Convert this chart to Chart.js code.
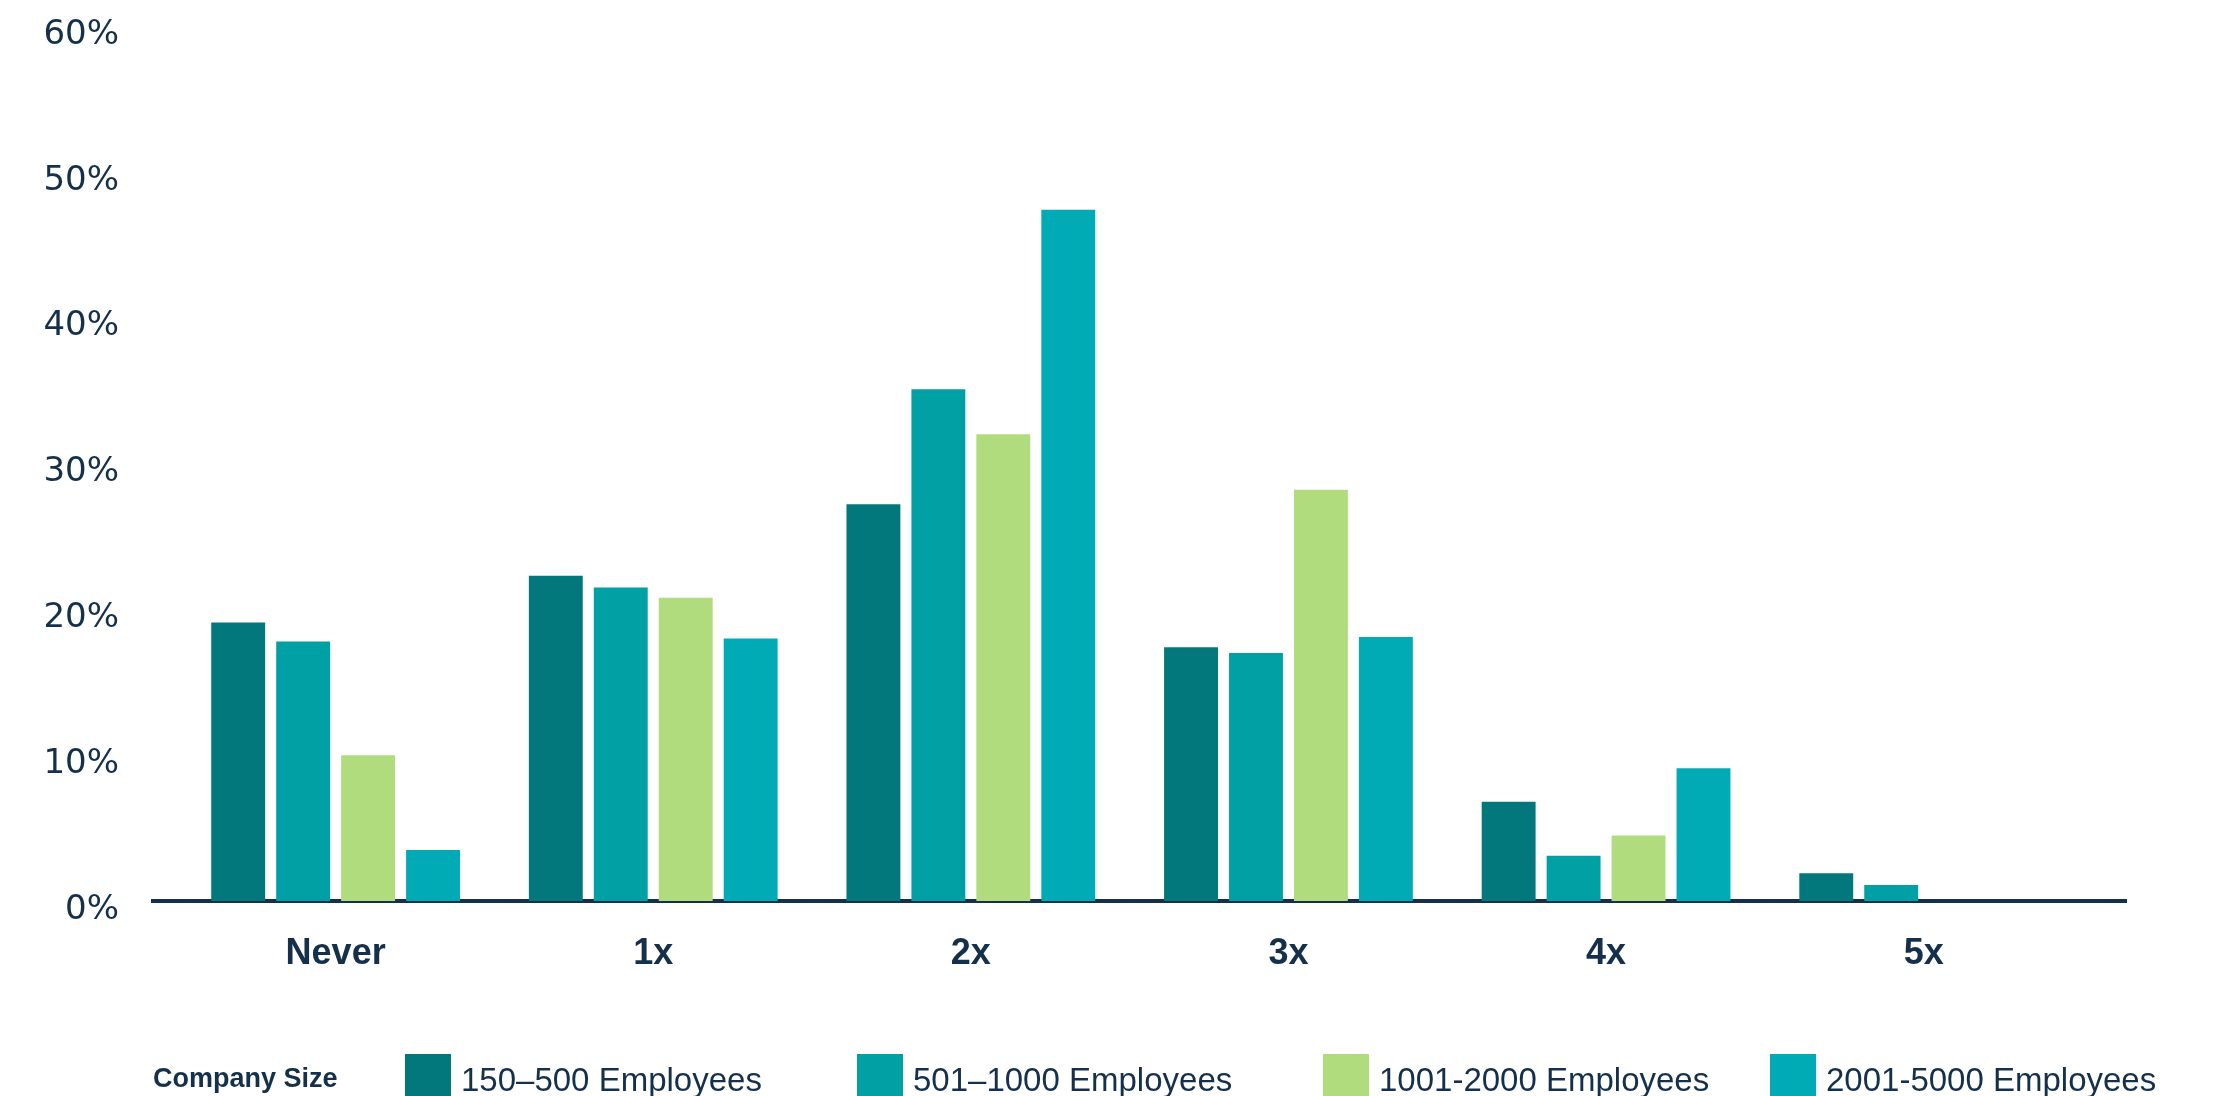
<!DOCTYPE html>
<html>
<head>
<meta charset="utf-8">
<script src="https://cdn.jsdelivr.net/npm/chart.js@4/dist/chart.umd.min.js"></script>
<style>
  html, body { margin: 0; padding: 0; background: #ffffff; }
  #wrap { width: 2218px; height: 1096px; position: relative; overflow: hidden; }
</style>
</head>
<body>
<div id="wrap"><canvas id="chart" width="2218" height="1096"></canvas></div>
<script>
// How often employees were asked, by company size (share of respondents, %)
const categories = ['Never', '1x', '2x', '3x', '4x', '5x'];
const seriesNames = ['150–500 Employees', '501–1000 Employees', '1001-2000 Employees', '2001-5000 Employees'];
const size150to500   = [19.1, 22.3, 27.2, 17.4, 6.8, 1.9];
const size501to1000  = [17.8, 21.5, 35.1, 17.0, 3.1, 1.1];
const size1001to2000 = [10.0, 20.8, 32.0, 28.2, 4.5, 0];
const size2001to5000 = [3.5, 18.0, 47.4, 18.1, 9.1, 0];
const yTicks = [0, 10, 20, 30, 40, 50, 60];
const legendTitle = 'Company Size';

const seriesValues = [size150to500, size501to1000, size1001to2000, size2001to5000];
const seriesColors = ['#03787c', '#00a0a5', '#b0dc7e', '#00abb6'];
const legendSwatchX = [405, 857, 1323, 1770];
const ink = '#14304a';

const datasets = seriesNames.map((name, i) => ({
  label: name,
  data: seriesValues[i].map((v, k) => ({ x: k, y: v })),
  backgroundColor: seriesColors[i],
  borderWidth: 0,
  categoryPercentage: 0.818,
  barPercentage: 0.83
}));

// Legend row along the bottom edge: bold title, then swatch + label pairs
const bottomLegend = {
  id: 'bottomLegend',
  afterDraw(chart) {
    const ctx = chart.ctx;
    ctx.save();
    ctx.fillStyle = ink;
    ctx.textAlign = 'left';
    ctx.textBaseline = 'alphabetic';
    ctx.font = 'bold 27px "Liberation Sans", Arial, sans-serif';
    ctx.fillText(legendTitle, 153, 1087);
    ctx.font = '33px "Liberation Sans", Arial, sans-serif';
    chart.data.datasets.forEach((ds, i) => {
      const x = legendSwatchX[i];
      ctx.fillStyle = ds.backgroundColor;
      ctx.fillRect(x, 1054, 46, 50);
      ctx.fillStyle = ink;
      ctx.fillText(ds.label, x + 56, 1091);
    });
    ctx.restore();
  }
};

// keep tick label overhang from adding extra space around the plot area
const noScalePadding = s => { s.paddingTop = 0; s.paddingBottom = 0; s.paddingLeft = 0; s.paddingRight = 0; };

new Chart(document.getElementById('chart'), {
  type: 'bar',
  data: { datasets },
  plugins: [bottomLegend],
  options: {
    responsive: false,
    devicePixelRatio: 1,
    animation: false,
    layout: { padding: { top: 26, right: 92, bottom: 0, left: 0 } },
    plugins: { legend: { display: false }, tooltip: { enabled: false } },
    scales: {
      x: {
        type: 'linear',
        offset: false,
        min: -0.575,
        max: 5.637,
        z: 1,
        afterFit(scale) { scale.height = 195; noScalePadding(scale); },
        grid: { display: false, drawTicks: false, offset: false },
        border: { display: true, color: ink, width: 4 },
        ticks: {
          stepSize: 1,
          autoSkip: false,
          includeBounds: false,
          maxRotation: 0,
          padding: 31,
          color: ink,
          font: { family: '"Liberation Sans", Arial, sans-serif', size: 36, weight: 'bold' },
          callback: v => (Number.isInteger(v) && categories[v] !== undefined) ? categories[v] : ''
        }
      },
      y: {
        type: 'linear',
        min: yTicks[0],
        max: yTicks[yTicks.length - 1],
        afterFit(scale) { scale.width = 153; noScalePadding(scale); },
        afterBuildTicks(scale) { scale.ticks = yTicks.map(v => ({ value: v })); },
        grid: { display: false, drawTicks: false },
        border: { display: false },
        ticks: {
          padding: 34,
          labelOffset: 9,
          color: ink,
          font: { family: '"DejaVu Sans", sans-serif', size: 34 },
          callback: v => v + '%'
        }
      }
    }
  }
});
</script>
</body>
</html>
